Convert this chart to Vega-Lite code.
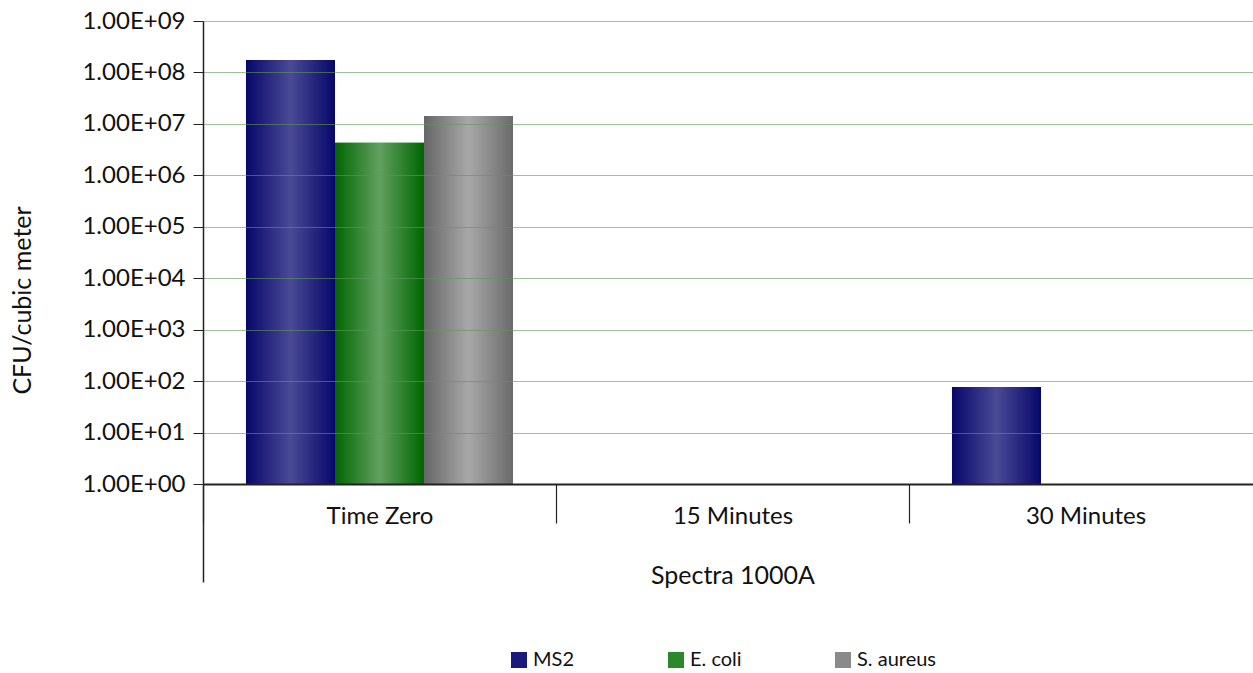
{
  "$schema": "https://vega.github.io/schema/vega-lite/v6.json",
  "autosize": "none",
  "width": 1050,
  "height": 463,
  "padding": {"left": 203, "top": 21, "right": 0, "bottom": 189},
  "background": "white",
  "config": {
    "font": "Lato",
    "view": {"stroke": null},
    "axis": {"labelFont": "Lato", "titleFont": "Lato", "labelColor": "#111", "titleColor": "#111", "titleFontWeight": "normal"},
    "legend": {"labelFont": "Lato"}
  },
  "data": {
    "values": [
      {"time": "Time Zero", "series": "MS2", "cfu": 175000000},
      {"time": "Time Zero", "series": "E. coli", "cfu": 4300000},
      {"time": "Time Zero", "series": "S. aureus", "cfu": 14200000},
      {"time": "30 Minutes", "series": "MS2", "cfu": 77}
    ]
  },
  "encoding": {
    "xOffset": {
      "field": "series", "type": "nominal",
      "scale": {"domain": ["MS2", "E. coli", "S. aureus"], "paddingInner": 0, "paddingOuter": 0.483}
    },
    "y": {
      "field": "cfu", "type": "quantitative",
      "scale": {"type": "log", "domain": [1, 1000000000], "nice": false},
      "axis": {
        "title": "CFU/cubic meter", "titleFontSize": 25, "labelFontSize": 24,
        "values": [1, 10, 100, 1000, 10000, 100000, 1000000, 10000000, 100000000, 1000000000],
        "labelExpr": "'1.00E+0' + round(log(datum.value)/LN10)",
        "grid": true, "gridColor": "#5a9a5a", "gridOpacity": 0.6, "gridWidth": 1.2,
        "zindex": 1, "tickSize": 10, "tickColor": "#222", "domainColor": "#222", "domainWidth": 1.5,
        "labelPadding": 8,
        "titleX": -181, "titleY": 279, "titleAngle": -90, "titleBaseline": "middle", "titleAlign": "center"
      }
    },
    "y2": {"datum": 1}
  },
  "resolve": {"axis": {"x": "independent"}},
  "layer": [
    {
      "mark": {"type": "bar"},
      "encoding": {
        "x": {
          "field": "time", "type": "nominal",
          "scale": {"domain": ["Time Zero", "15 Minutes", "30 Minutes"], "range": [0, 1059], "paddingInner": 0, "paddingOuter": 0},
          "axis": {
            "orient": "bottom", "zindex": 2,
            "title": "Spectra 1000A", "labelAngle": 0, "labelFontSize": 24, "titleFontSize": 25,
            "tickBand": "extent", "tickSize": 39, "tickColor": "#222", "tickWidth": 1.2,
            "domainColor": "#222", "domainWidth": 2, "labelPadding": -7, "titlePadding": 35, "labelBaseline": "middle"
          }
        },
        "color": {
          "field": "series", "type": "nominal",
          "scale": {"domain": ["MS2", "E. coli", "S. aureus"], "range": ["#1a1a7c", "#2a8a2a", "#8a8a8a"]},
          "legend": {
            "title": null, "orient": "none", "legendX": 306, "legendY": 629, "direction": "horizontal",
            "columns": 3, "symbolType": "square", "symbolSize": 256, "symbolStrokeWidth": 0,
            "labelFontSize": 20, "labelColor": "#111", "columnPadding": 91, "labelOffset": 4
          }
        }
      }
    },
    {
      "transform": [{"filter": "datum.series == 'MS2'"}],
      "mark": {"type": "bar", "color": {"gradient": "linear", "x1": 0, "y1": 0, "x2": 1, "y2": 0,
        "stops": [{"offset": 0, "color": "#07076a"}, {"offset": 0.5, "color": "#4a4a96"}, {"offset": 1, "color": "#07076a"}]}},
      "encoding": {
        "x": {
          "field": "time", "type": "nominal",
          "axis": {
            "orient": "bottom", "values": ["Time Zero"], "bandPosition": 0, "labels": false, "title": null,
            "domain": false, "grid": false, "tickSize": 98, "tickColor": "#222", "tickWidth": 1.5, "zindex": 2
          }
        }
      }
    },
    {
      "transform": [{"filter": "datum.series == 'E. coli'"}],
      "mark": {"type": "bar", "color": {"gradient": "linear", "x1": 0, "y1": 0, "x2": 1, "y2": 0,
        "stops": [{"offset": 0, "color": "#006600"}, {"offset": 0.5, "color": "#62a062"}, {"offset": 1, "color": "#006600"}]}},
      "encoding": {"x": {"field": "time", "type": "nominal", "axis": null}}
    },
    {
      "transform": [{"filter": "datum.series == 'S. aureus'"}],
      "mark": {"type": "bar", "color": {"gradient": "linear", "x1": 0, "y1": 0, "x2": 1, "y2": 0,
        "stops": [{"offset": 0, "color": "#666666"}, {"offset": 0.5, "color": "#a8a8a8"}, {"offset": 1, "color": "#6a6a6a"}]}},
      "encoding": {"x": {"field": "time", "type": "nominal", "axis": null}}
    }
  ]
}
